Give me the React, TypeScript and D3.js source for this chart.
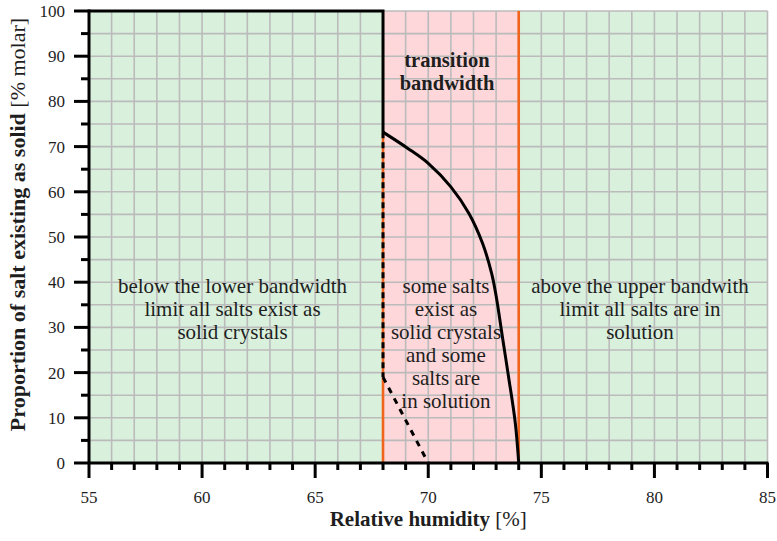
import React from "react";
import * as d3 from "d3";

// ---- data ----
const regionBounds = [55, 68, 74, 85];
const regionNames = ["below", "transition", "above"];
const xMajorTicks = [55, 60, 65, 70, 75, 80, 85];
const yMajorTicks = [0, 10, 20, 30, 40, 50, 60, 70, 80, 90, 100];
const curveX = [68, 69.1, 70, 71, 71.8, 72.4, 72.8, 73, 73.3, 73.55, 73.85, 74];
const curveY = [73.2, 69.6, 66.3, 61.1, 55.2, 48.6, 42, 37, 27.2, 19.1, 8.8, 0];
const solidTopX = [55, 68, 68];
const solidTopY = [100, 100, 73.2];
const dashedVertX = [68, 68];
const dashedVertY = [73.2, 19];
const dashedDiagX = [68, 70];
const dashedDiagY = [19, 0];
const lowerLimit = 68;
const upperLimit = 74;
const belowText = ["below the lower bandwidth", "limit all salts exist as", "solid crystals"];
const midText = ["some salts", "exist as", "solid crystals", "and some", "salts are", "in solution"];
const aboveText = ["above the upper bandwith", "limit all salts are in", "solution"];
const titleText = ["transition", "bandwidth"];

const W = 777;
const H = 541;
const FONT = "'Liberation Serif', 'Times New Roman', serif";

export default function App() {
  const x = d3.scaleLinear().domain([55, 85]).range([89, 767.5]);
  const y = d3.scaleLinear().domain([0, 100]).range([463, 11]);

  const xGrid = d3.range(55, 85.01, 1);
  const yGrid = d3.range(0, 100.01, 5);
  const xMinor = d3.range(55, 85.01, 1);
  const yMinor = d3.range(0, 100.01, 5);

  const line = d3
    .line<[number, number]>()
    .x((d) => x(d[0]))
    .y((d) => y(d[1]));
  const smooth = d3
    .line<[number, number]>()
    .x((d) => x(d[0]))
    .y((d) => y(d[1]))
    .curve(d3.curveCatmullRom.alpha(0.5));

  const zip = (a: number[], b: number[]) => a.map((v, i) => [v, b[i]] as [number, number]);
  const fills = ["#d9f0dd", "#fdd7d9", "#d9f0dd"];

  const textColor = "#1e1e1e";
  const sw = 3;

  return (
    <svg
      width={W}
      height={H}
      style={{ position: "absolute", left: 0, top: 0, background: "#fff" }}
      fontFamily={FONT}
    >
      {regionNames.map((n, i) => (
        <rect
          key={n}
          x={x(regionBounds[i])}
          y={y(100)}
          width={x(regionBounds[i + 1]) - x(regionBounds[i])}
          height={y(0) - y(100)}
          fill={fills[i]}
        />
      ))}
      {xGrid.map((v) => (
        <line key={"gx" + v} x1={x(v)} x2={x(v)} y1={y(0)} y2={y(100)} stroke="#bbb" strokeWidth={1.6} />
      ))}
      {yGrid.map((v) => (
        <line key={"gy" + v} x1={x(55)} x2={x(85)} y1={y(v)} y2={y(v)} stroke="#bbb" strokeWidth={1.6} />
      ))}

      {/* orange limits */}
      <line x1={x(lowerLimit)} x2={x(lowerLimit)} y1={y(0)} y2={y(73.2)} stroke="#f0641e" strokeWidth={2.6} />
      <line x1={x(upperLimit)} x2={x(upperLimit)} y1={y(0)} y2={y(100)} stroke="#f0641e" strokeWidth={2.6} />

      {/* black lines */}
      <path d={line(zip(solidTopX, solidTopY)) || ""} fill="none" stroke="#000" strokeWidth={sw} />
      <path d={smooth(zip(curveX, curveY)) || ""} fill="none" stroke="#000" strokeWidth={sw} />
      <path
        d={line(zip(dashedVertX, dashedVertY)) || ""}
        fill="none"
        stroke="#000"
        strokeWidth={sw}
        strokeDasharray="6,4"
      />
      <path
        d={line(zip(dashedDiagX, dashedDiagY)) || ""}
        fill="none"
        stroke="#000"
        strokeWidth={sw}
        strokeDasharray="6,6"
      />

      {/* axes */}
      <line x1={x(55)} x2={x(55)} y1={y(0) + 1} y2={y(100) - 1.5} stroke="#000" strokeWidth={sw} />
      <line x1={x(55) - 1} x2={x(85) + 1} y1={y(0)} y2={y(0)} stroke="#000" strokeWidth={sw} />
      {yMinor.map((v) => (
        <line
          key={"ty" + v}
          x1={x(55)}
          x2={x(55) - (v % 10 === 0 ? 15 : 8)}
          y1={y(v)}
          y2={y(v)}
          stroke="#000"
          strokeWidth={sw}
        />
      ))}
      {xMinor.map((v) => (
        <line
          key={"tx" + v}
          x1={x(v)}
          x2={x(v)}
          y1={y(0)}
          y2={y(0) + (v % 5 === 0 ? 15 : 7)}
          stroke="#000"
          strokeWidth={sw}
        />
      ))}
      {yMajorTicks.map((v) => (
        <text key={"ly" + v} x={x(55) - 24} y={y(v)} dy="0.35em" textAnchor="end" fontSize={17} fill={textColor}>
          {v}
        </text>
      ))}
      {xMajorTicks.map((v) => (
        <text key={"lx" + v} x={x(v)} y={503} textAnchor="middle" fontSize={17} fill={textColor}>
          {v}
        </text>
      ))}

      {/* axis titles */}
      <text x={(x(55) + x(85)) / 2} y={526} textAnchor="middle" fontSize={21} fill={textColor}>
        <tspan fontWeight="bold">Relative humidity </tspan>
        <tspan>[%]</tspan>
      </text>
      <text
        transform={`translate(25, 224.5) rotate(-90)`}
        textAnchor="middle"
        fontSize={22}
        fill={textColor}
      >
        <tspan fontWeight="bold">Proportion of salt existing as solid </tspan>
        <tspan>[% molar]</tspan>
      </text>

      {/* annotations */}
      {belowText.map((t, i) => (
        <text key={"b" + i} x={232.5} y={293 + i * 23} textAnchor="middle" fontSize={21} fill={textColor}>
          {t}
        </text>
      ))}
      {midText.map((t, i) => (
        <text key={"m" + i} x={446} y={293 + i * 23} textAnchor="middle" fontSize={21} fill={textColor}>
          {t}
        </text>
      ))}
      {aboveText.map((t, i) => (
        <text key={"a" + i} x={640} y={293 + i * 23} textAnchor="middle" fontSize={21} fill={textColor}>
          {t}
        </text>
      ))}
      {titleText.map((t, i) => (
        <text
          key={"t" + i}
          x={447}
          y={67 + i * 22.5}
          textAnchor="middle"
          fontSize={20.5}
          fontWeight="bold"
          fill={textColor}
        >
          {t}
        </text>
      ))}
    </svg>
  );
}
